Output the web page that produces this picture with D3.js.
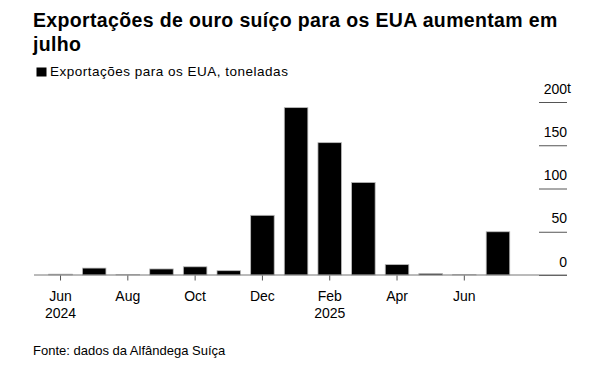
<!DOCTYPE html>
<html>
<head>
<meta charset="utf-8">
<script src="https://cdn.jsdelivr.net/npm/d3@7"></script>
<style>
  body { margin: 0; background: #fff; }
  svg { font-family: "Liberation Sans", Arial, Helvetica, sans-serif; }
</style>
</head>
<body>
<div id="chart"></div>
<script>
// Chart data
const months = ["Jun 2024", "Jul 2024", "Aug 2024", "Sep 2024", "Oct 2024", "Nov 2024", "Dec 2024",
  "Jan 2025", "Feb 2025", "Mar 2025", "Apr 2025", "May 2025", "Jun 2025", "Jul 2025"];
const tonnes = [1, 8, 0.5, 7, 9.5, 5, 69, 193.5, 153, 107, 12, 1.7, 0.3, 50];
const yTicks = [0, 50, 100, 150, 200];
const labelMonths = ["Jun 2024", "Aug 2024", "Oct 2024", "Dec 2024", "Feb 2025", "Apr 2025", "Jun 2025"];

const w = 601, h = 366;
const font = '"Liberation Sans", Arial, sans-serif';

const svg = d3.select('#chart')
  .append('svg')
  .attr('width', w)
  .attr('height', h);

// Title + legend
svg.append('text')
  .attr('x', 33).attr('y', 27)
  .style('font-size', '19.5px').style('font-weight', 'bold')
  .style('letter-spacing', '0.35px')
  .text('Exportações de ouro suíço para os EUA aumentam em');
svg.append('text')
  .attr('x', 33).attr('y', 51)
  .style('font-size', '19.5px').style('font-weight', 'bold')
  .style('letter-spacing', '0.35px')
  .text('julho');

svg.append('rect')
  .attr('x', 36.5).attr('y', 67.5).attr('width', 10).attr('height', 9)
  .attr('fill', '#000');
svg.append('text')
  .attr('x', 50).attr('y', 76)
  .style('font-size', '13.5px')
  .style('letter-spacing', '0.5px')
  .text('Exportações para os EUA, toneladas');

// Scales
const xScale = d3.scaleBand()
  .domain(months)
  .range([43.7, 514.8])
  .paddingInner(0.3)
  .paddingOuter(0.15);

const yScale = d3.scaleLinear()
  .domain([0, 200])
  .range([275, 102]);

// Gridlines + y labels on the right
const yAxis = d3.axisLeft(yScale)
  .tickValues(yTicks)
  .tickSize(28)
  .tickFormat(d => d);

const gy = svg.append('g')
  .attr('transform', 'translate(567,0)')
  .call(yAxis);
gy.select('.domain').remove();
gy.selectAll('line').attr('stroke', '#555');
gy.selectAll('text')
  .attr('x', 0)
  .attr('dy', -9)
  .attr('fill', '#000')
  .style('font-size', '14px')
  .style('font-family', font);

// unit suffix hanging right of the top label
svg.append('text')
  .attr('x', 567).attr('y', yScale(200) - 9)
  .style('font-size', '14px')
  .text('t');

// Bars
svg.selectAll('rect.bar')
  .data(months)
  .enter()
  .append('rect')
  .attr('class', 'bar')
  .attr('x', d => xScale(d))
  .attr('width', xScale.bandwidth())
  .attr('y', (d, i) => yScale(tonnes[i]))
  .attr('height', (d, i) => yScale(0) - yScale(tonnes[i]))
  .attr('fill', '#000')
  .attr('stroke', '#bbb')
  .attr('stroke-width', 0.8);

// Baseline
svg.append('line')
  .attr('x1', 34).attr('x2', 567)
  .attr('y1', yScale(0)).attr('y2', yScale(0))
  .attr('stroke', '#777');

// X axis
const xAxis = d3.axisBottom(xScale)
  .tickValues(labelMonths)
  .tickSize(5)
  .tickFormat(d => d.split(' ')[0]);

const gx = svg.append('g')
  .attr('transform', 'translate(0,' + (yScale(0) + 0.5) + ')')
  .call(xAxis);
gx.select('.domain').remove();
gx.selectAll('line').attr('stroke', '#555');
gx.selectAll('text')
  .attr('fill', '#000')
  .attr('y', 25)
  .attr('dy', 0)
  .style('font-size', '14px')
  .style('font-family', font);

// Year labels under first Jun and Feb
gx.selectAll('.tick')
  .filter(d => d === 'Jun 2024' || d === 'Feb 2025')
  .append('text')
  .attr('fill', '#000')
  .attr('y', 42)
  .attr('text-anchor', 'middle')
  .style('font-size', '14px')
  .style('font-family', font)
  .text(d => d.split(' ')[1]);

// Source
svg.append('text')
  .attr('x', 33).attr('y', 355)
  .style('font-size', '13px')
  .text('Fonte: dados da Alfândega Suíça');
</script>
</body>
</html>
